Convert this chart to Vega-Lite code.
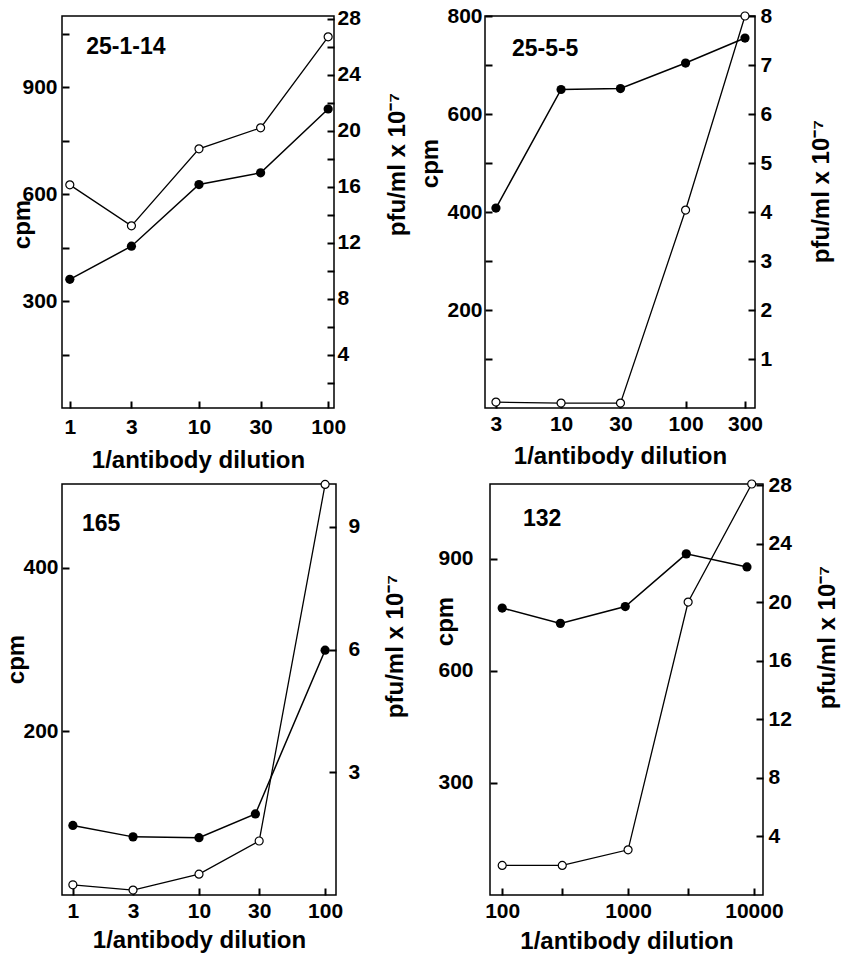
{
  "$schema": "https://vega.github.io/schema/vega-lite/v6.json",
  "background": "white",
  "padding": {"left": 4, "top": 4, "right": 5, "bottom": 0},
  "datasets": {
    "cpm": [
      {"panel": "25-1-14", "dilution": 1, "cpm": 361},
      {"panel": "25-1-14", "dilution": 3, "cpm": 454},
      {"panel": "25-1-14", "dilution": 10, "cpm": 627},
      {"panel": "25-1-14", "dilution": 30, "cpm": 660},
      {"panel": "25-1-14", "dilution": 100, "cpm": 839},
      {"panel": "25-5-5", "dilution": 3, "cpm": 408},
      {"panel": "25-5-5", "dilution": 10, "cpm": 650},
      {"panel": "25-5-5", "dilution": 30, "cpm": 652},
      {"panel": "25-5-5", "dilution": 100, "cpm": 704},
      {"panel": "25-5-5", "dilution": 300, "cpm": 755},
      {"panel": "165", "dilution": 1, "cpm": 85},
      {"panel": "165", "dilution": 3, "cpm": 71},
      {"panel": "165", "dilution": 10, "cpm": 70},
      {"panel": "165", "dilution": 28, "cpm": 99},
      {"panel": "165", "dilution": 100, "cpm": 299},
      {"panel": "132", "dilution": 100, "cpm": 768},
      {"panel": "132", "dilution": 290, "cpm": 727},
      {"panel": "132", "dilution": 950, "cpm": 772},
      {"panel": "132", "dilution": 2900, "cpm": 913},
      {"panel": "132", "dilution": 8800, "cpm": 878}
    ],
    "pfu": [
      {"panel": "25-1-14", "dilution": 1, "pfu": 16.14},
      {"panel": "25-1-14", "dilution": 3, "pfu": 13.21},
      {"panel": "25-1-14", "dilution": 10, "pfu": 18.71},
      {"panel": "25-1-14", "dilution": 30, "pfu": 20.21},
      {"panel": "25-1-14", "dilution": 100, "pfu": 26.71},
      {"panel": "25-5-5", "dilution": 3, "pfu": 0.12},
      {"panel": "25-5-5", "dilution": 10, "pfu": 0.1},
      {"panel": "25-5-5", "dilution": 30, "pfu": 0.1},
      {"panel": "25-5-5", "dilution": 100, "pfu": 4.04},
      {"panel": "25-5-5", "dilution": 300, "pfu": 8.0},
      {"panel": "165", "dilution": 1, "pfu": 0.25},
      {"panel": "165", "dilution": 3, "pfu": 0.12},
      {"panel": "165", "dilution": 10, "pfu": 0.51},
      {"panel": "165", "dilution": 30, "pfu": 1.32},
      {"panel": "165", "dilution": 100, "pfu": 10.04},
      {"panel": "132", "dilution": 100, "pfu": 2.02},
      {"panel": "132", "dilution": 300, "pfu": 2.02},
      {"panel": "132", "dilution": 1000, "pfu": 3.09},
      {"panel": "132", "dilution": 3000, "pfu": 20.03},
      {"panel": "132", "dilution": 9600, "pfu": 28.1}
    ],
    "labels": [
      {"panel": "25-1-14"},
      {"panel": "25-5-5"},
      {"panel": "165"},
      {"panel": "132"}
    ]
  },
  "vconcat": [
    {
      "hconcat": [
        {
          "width": 272, "height": 392,
          "resolve": {"scale": {"y": "independent"}},
          "layer": [
            {
              "data": {"name": "cpm"},
              "transform": [{"filter": "datum.panel === '25-1-14'"}],
              "mark": {"type": "line", "color": "black", "strokeWidth": 1.5, "point": {"filled": true, "color": "black", "size": 85}},
              "encoding": {
                "x": {"field": "dilution", "type": "quantitative", "scale": {"type": "log", "domain": [0.87, 111], "nice": false},
                  "axis": {"title": "1/antibody dilution", "values": [1, 3, 10, 30, 100], "format": "d", "offset": -7, "tickSize": 7, "labelPadding": 8, "titlePadding": 11}},
                "y": {"field": "cpm", "type": "quantitative", "scale": {"domain": [0, 1100], "nice": false, "zero": false},
                  "axis": {"title": "cpm", "values": [150, 300, 450, 600, 750, 900, 1050], "labelExpr": "datum.value % 300 === 0 ? datum.label : ''",
                    "offset": -7, "tickSize": 7, "labelPadding": 5, "titlePadding": -13, "titleY": 208}}
              }
            },
            {
              "data": {"name": "labels"},
              "transform": [{"filter": "datum.panel === '25-1-14'"}],
              "mark": {"type": "text", "align": "left", "baseline": "middle", "fontSize": 23, "fontWeight": "bold", "font": "Liberation Sans", "color": "black"},
              "encoding": {
                "x": {"datum": 1.34, "type": "quantitative"},
                "y": {"datum": 1013, "type": "quantitative", "scale": {"domain": [0, 1100], "nice": false, "zero": false}, "axis": null},
                "text": {"field": "panel"}
              }
            },
            {
              "data": {"name": "pfu"},
              "transform": [{"filter": "datum.panel === '25-1-14'"}],
              "mark": {"type": "line", "color": "black", "strokeWidth": 1.3, "point": {"filled": false, "fill": "white", "stroke": "black", "strokeWidth": 1.2, "size": 64}},
              "encoding": {
                "x": {"field": "dilution", "type": "quantitative"},
                "y": {"field": "pfu", "type": "quantitative", "scale": {"domain": [0.2, 28.2], "nice": false, "zero": false},
                  "axis": {"orient": "right", "title": "pfu/ml x 10⁻⁷", "values": [2, 4, 6, 8, 10, 12, 14, 16, 18, 20, 22, 24, 26, 28], "labelExpr": "datum.value % 4 === 0 ? datum.label : ''",
                    "offset": -7, "tickSize": 7, "labelPadding": 3, "titleAngle": -90, "titleBaseline": "top", "titlePadding": 25, "titleY": 148}}
              }
            }
          ]
        },
        {
          "width": 270, "height": 392,
          "resolve": {"scale": {"y": "independent"}},
          "layer": [
            {
              "data": {"name": "cpm"},
              "transform": [{"filter": "datum.panel === '25-5-5'"}],
              "mark": {"type": "line", "color": "black", "strokeWidth": 1.5, "point": {"filled": true, "color": "black", "size": 85}},
              "encoding": {
                "x": {"field": "dilution", "type": "quantitative", "scale": {"type": "log", "domain": [2.45, 361], "nice": false},
                  "axis": {"title": "1/antibody dilution", "values": [3, 10, 30, 100, 300], "format": "d", "offset": -7, "tickSize": 7, "labelPadding": 5, "titlePadding": 10}},
                "y": {"field": "cpm", "type": "quantitative", "scale": {"domain": [0, 800], "nice": false, "zero": false},
                  "axis": {"title": "cpm", "values": [100, 200, 300, 400, 500, 600, 700, 800], "labelExpr": "datum.value % 200 === 0 ? datum.label : ''",
                    "offset": -7, "tickSize": 7, "labelPadding": 3, "titlePadding": 4, "titleY": 147}}
              }
            },
            {
              "data": {"name": "labels"},
              "transform": [{"filter": "datum.panel === '25-5-5'"}],
              "mark": {"type": "text", "align": "left", "baseline": "middle", "fontSize": 23, "fontWeight": "bold", "font": "Liberation Sans", "color": "black"},
              "encoding": {
                "x": {"datum": 4.03, "type": "quantitative"},
                "y": {"datum": 733, "type": "quantitative", "scale": {"domain": [0, 800], "nice": false, "zero": false}, "axis": null},
                "text": {"field": "panel"}
              }
            },
            {
              "data": {"name": "pfu"},
              "transform": [{"filter": "datum.panel === '25-5-5'"}],
              "mark": {"type": "line", "color": "black", "strokeWidth": 1.3, "point": {"filled": false, "fill": "white", "stroke": "black", "strokeWidth": 1.2, "size": 64}},
              "encoding": {
                "x": {"field": "dilution", "type": "quantitative"},
                "y": {"field": "pfu", "type": "quantitative", "scale": {"domain": [0, 8], "nice": false, "zero": false},
                  "axis": {"orient": "right", "title": "pfu/ml x 10⁻⁷", "values": [1, 2, 3, 4, 5, 6, 7, 8],
                    "offset": -7, "tickSize": 7, "labelPadding": 5, "titleAngle": -90, "titleBaseline": "top", "titlePadding": 38, "titleY": 175}}
              }
            }
          ]
        }
      ],
      "spacing": 7
    },
    {
      "hconcat": [
        {
          "width": 274, "height": 411,
          "resolve": {"scale": {"y": "independent"}},
          "layer": [
            {
              "data": {"name": "cpm"},
              "transform": [{"filter": "datum.panel === '165'"}],
              "mark": {"type": "line", "color": "black", "strokeWidth": 1.5, "point": {"filled": true, "color": "black", "size": 85}},
              "encoding": {
                "x": {"field": "dilution", "type": "quantitative", "scale": {"type": "log", "domain": [0.82, 122], "nice": false},
                  "axis": {"title": "1/antibody dilution", "values": [1, 3, 10, 30, 100], "format": "d", "offset": -7, "tickSize": 7, "labelPadding": 5, "titlePadding": 7}},
                "y": {"field": "cpm", "type": "quantitative", "scale": {"domain": [0, 502], "nice": false, "zero": false},
                  "axis": {"title": "cpm", "values": [200, 400], "offset": -7, "tickSize": 7, "labelPadding": 4, "titlePadding": -6, "titleY": 175}}
              }
            },
            {
              "data": {"name": "labels"},
              "transform": [{"filter": "datum.panel === '165'"}],
              "mark": {"type": "text", "align": "left", "baseline": "middle", "fontSize": 23, "fontWeight": "bold", "font": "Liberation Sans", "color": "black"},
              "encoding": {
                "x": {"datum": 1.18, "type": "quantitative"},
                "y": {"datum": 453, "type": "quantitative", "scale": {"domain": [0, 502], "nice": false, "zero": false}, "axis": null},
                "text": {"field": "panel"}
              }
            },
            {
              "data": {"name": "pfu"},
              "transform": [{"filter": "datum.panel === '165'"}],
              "mark": {"type": "line", "color": "black", "strokeWidth": 1.3, "point": {"filled": false, "fill": "white", "stroke": "black", "strokeWidth": 1.2, "size": 64}},
              "encoding": {
                "x": {"field": "dilution", "type": "quantitative"},
                "y": {"field": "pfu", "type": "quantitative", "scale": {"domain": [0, 10.05], "nice": false, "zero": false},
                  "axis": {"orient": "right", "title": "pfu/ml x 10⁻⁷", "values": [3, 6, 9],
                    "offset": -7, "tickSize": 7, "labelPadding": 12, "titleAngle": -90, "titleBaseline": "top", "titlePadding": 24, "titleY": 162}}
              }
            }
          ]
        },
        {
          "width": 273, "height": 411,
          "resolve": {"scale": {"y": "independent"}},
          "layer": [
            {
              "data": {"name": "cpm"},
              "transform": [{"filter": "datum.panel === '132'"}],
              "mark": {"type": "line", "color": "black", "strokeWidth": 1.5, "point": {"filled": true, "color": "black", "size": 85}},
              "encoding": {
                "x": {"field": "dilution", "type": "quantitative", "scale": {"type": "log", "domain": [80, 11800], "nice": false},
                  "axis": {"title": "1/antibody dilution", "values": [100, 300, 1000, 3000, 10000], "format": "d", "labelExpr": "datum.value === 300 || datum.value === 3000 ? '' : datum.label", "offset": -7, "tickSize": 7, "labelPadding": 5, "titlePadding": 8}},
                "y": {"field": "cpm", "type": "quantitative", "scale": {"domain": [0, 1100], "nice": false, "zero": false},
                  "axis": {"title": "cpm", "values": [300, 600, 900], "offset": -7, "tickSize": 7, "labelPadding": 17, "titlePadding": -20, "titleY": 137}}
              }
            },
            {
              "data": {"name": "labels"},
              "transform": [{"filter": "datum.panel === '132'"}],
              "mark": {"type": "text", "align": "left", "baseline": "middle", "fontSize": 23, "fontWeight": "bold", "font": "Liberation Sans", "color": "black"},
              "encoding": {
                "x": {"datum": 146, "type": "quantitative"},
                "y": {"datum": 1007, "type": "quantitative", "scale": {"domain": [0, 1100], "nice": false, "zero": false}, "axis": null},
                "text": {"field": "panel"}
              }
            },
            {
              "data": {"name": "pfu"},
              "transform": [{"filter": "datum.panel === '132'"}],
              "mark": {"type": "line", "color": "black", "strokeWidth": 1.3, "point": {"filled": false, "fill": "white", "stroke": "black", "strokeWidth": 1.2, "size": 64}},
              "encoding": {
                "x": {"field": "dilution", "type": "quantitative"},
                "y": {"field": "pfu", "type": "quantitative", "scale": {"domain": [0, 28.1], "nice": false, "zero": false},
                  "axis": {"orient": "right", "title": "pfu/ml x 10⁻⁷", "values": [4, 8, 12, 16, 20, 24, 28],
                    "offset": -7, "tickSize": 7, "labelPadding": 5, "titleAngle": -90, "titleBaseline": "top", "titlePadding": 24, "titleY": 153}}
              }
            }
          ]
        }
      ],
      "spacing": 24
    }
  ],
  "spacing": 0,
  "config": {
    "view": {"stroke": "black", "strokeWidth": 1.5},
    "axis": {
      "gridOpacity": 0, "domainOpacity": 0, "ticks": true, "zindex": 1,
      "tickColor": "black", "tickWidth": 2, "tickOpacity": 1,
      "labelColor": "black", "titleColor": "black",
      "labelFont": "Liberation Sans", "titleFont": "Liberation Sans",
      "labelFontWeight": "bold", "titleFontWeight": "bold",
      "labelFontSize": 21, "titleFontSize": 24
    }
  }
}
